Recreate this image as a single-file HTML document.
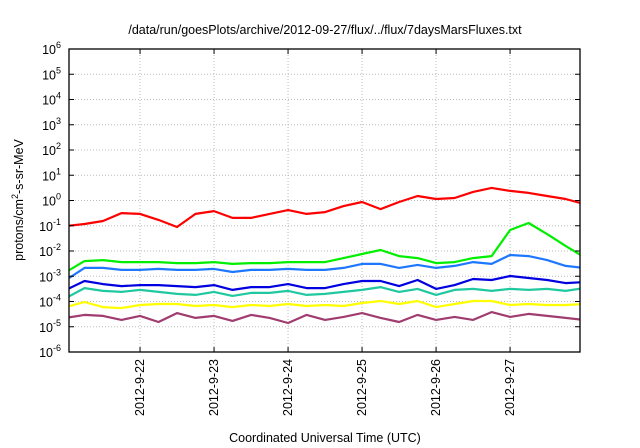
<!DOCTYPE html>
<html><head><meta charset="utf-8"><style>
body{margin:0;background:#fff;}
svg{display:block;font-family:"Liberation Sans",Arial,sans-serif;}
</style></head><body>
<svg id="chart" width="640" height="448">
<text x="325" y="34" text-anchor="middle" font-size="12.5">/data/run/goesPlots/archive/2012-09-27/flux/../flux/7daysMarsFluxes.txt</text>
<text x="325" y="442" text-anchor="middle" font-size="12.5">Coordinated Universal Time (UTC)</text>
<text transform="translate(23,200) rotate(-90)" text-anchor="middle" font-size="12.5">protons/cm<tspan dy="-5" font-size="9">2</tspan><tspan dy="5">-s-sr-MeV</tspan></text>
<g id="grid"></g><g id="series"></g><g id="axes"></g>
</svg>
<script>
const dayTicks=[22,23,24,25,26,27];
const dayLabels=["2012-9-22","2012-9-23","2012-9-24","2012-9-25","2012-9-26","2012-9-27"];
const decades=[-6,-5,-4,-3,-2,-1,0,1,2,3,4,5,6];
const times=[21,21.25,21.5,21.75,22,22.25,22.5,22.75,23,23.25,23.5,23.75,24,24.25,24.5,24.75,25,25.25,25.5,25.75,26,26.25,26.5,26.75,27,27.25,27.5,27.75,28];
const redLog=[-1.01,-0.93,-0.81,-0.50,-0.53,-0.77,-1.05,-0.53,-0.42,-0.69,-0.69,-0.53,-0.38,-0.53,-0.46,-0.22,-0.06,-0.34,-0.06,0.18,0.06,0.10,0.34,0.50,0.38,0.30,0.18,0.06,-0.14];
const greenLog=[-2.83,-2.40,-2.36,-2.44,-2.44,-2.44,-2.48,-2.48,-2.44,-2.51,-2.48,-2.48,-2.44,-2.44,-2.44,-2.28,-2.12,-1.96,-2.20,-2.28,-2.48,-2.44,-2.28,-2.20,-1.17,-0.89,-1.33,-1.80,-2.24];
const lightBlueLog=[-3.15,-2.67,-2.67,-2.75,-2.75,-2.71,-2.75,-2.75,-2.71,-2.83,-2.75,-2.75,-2.71,-2.75,-2.75,-2.67,-2.51,-2.51,-2.67,-2.55,-2.67,-2.59,-2.44,-2.51,-2.16,-2.20,-2.36,-2.59,-2.67];
const blueLog=[-3.54,-3.19,-3.31,-3.39,-3.35,-3.35,-3.39,-3.43,-3.35,-3.54,-3.43,-3.43,-3.31,-3.47,-3.47,-3.31,-3.19,-3.19,-3.39,-3.15,-3.50,-3.35,-3.11,-3.15,-2.99,-3.07,-3.15,-3.27,-3.23];
const tealLog=[-3.86,-3.47,-3.58,-3.62,-3.54,-3.62,-3.70,-3.74,-3.62,-3.78,-3.66,-3.66,-3.58,-3.74,-3.70,-3.62,-3.54,-3.43,-3.62,-3.50,-3.74,-3.54,-3.50,-3.58,-3.50,-3.54,-3.50,-3.58,-3.47];
const yellowLog=[-4.22,-4.02,-4.22,-4.26,-4.14,-4.10,-4.10,-4.18,-4.14,-4.22,-4.14,-4.18,-4.10,-4.18,-4.14,-4.18,-4.06,-3.98,-4.10,-3.98,-4.22,-4.10,-3.98,-3.98,-4.14,-4.10,-4.14,-4.14,-4.10];
const purpleLog=[-4.65,-4.53,-4.57,-4.73,-4.57,-4.81,-4.46,-4.65,-4.57,-4.77,-4.53,-4.65,-4.85,-4.53,-4.73,-4.61,-4.46,-4.65,-4.81,-4.53,-4.73,-4.61,-4.73,-4.42,-4.61,-4.49,-4.57,-4.65,-4.73];
const seriesColors=["#ff0000","#00ee00","#1e78ff","#0000e0","#20c8a0","#ffff00","#a03c70"];
const seriesNames=["series-red","series-green","series-light-blue","series-blue","series-teal","series-yellow","series-purple"];
const allSeries=[redLog,greenLog,lightBlueLog,blueLog,tealLog,yellowLog,purpleLog];

const L=69,R=580,T=49,B=352,t0=21.04,t1=27.945;
const xS=t=>L+(t-t0)/(t1-t0)*(R-L);
const yS=v=>B-(v+6)/12*(B-T);
const NS="http://www.w3.org/2000/svg";
function mk(tag,attrs,parent){const e=document.createElementNS(NS,tag);for(const k in attrs)e.setAttribute(k,attrs[k]);parent.appendChild(e);return e;}
const grid=document.getElementById('grid'),axes=document.getElementById('axes'),ser=document.getElementById('series');
const defs=mk('defs',{},document.getElementById('chart'));
const cp=mk('clipPath',{id:'clip'},defs);mk('rect',{x:L,y:T,width:R-L,height:B-T},cp);
decades.forEach(d=>{
 const y=yS(d);
 if(d>-6&&d<6){const g=mk('line',{x1:L,x2:R,y1:y,y2:y,stroke:'#bbb','stroke-dasharray':'1,2','stroke-width':1},grid);
 }
 mk('line',{x1:L,x2:L+5,y1:y,y2:y,stroke:'#000'},axes);mk('line',{x1:R,x2:R-5,y1:y,y2:y,stroke:'#000'},axes);
 const t=mk('text',{x:L-8,y:y+5,'text-anchor':'end','font-size':'12.5'},axes);
 
 
 t.textContent='10';const s=mk('tspan',{dy:-6,'font-size':'9'},t);s.textContent=String(d);
});
dayTicks.forEach((d,i)=>{
 const x=xS(d);
 const g=mk('line',{x1:x,x2:x,y1:T,y2:B,stroke:'#bbb','stroke-dasharray':'1,2'},grid);
 
 mk('line',{x1:x,x2:x,y1:B,y2:B-5,stroke:'#000'},axes);mk('line',{x1:x,x2:x,y1:T,y2:T+5,stroke:'#000'},axes);
 const t=mk('text',{transform:`translate(${x+4},359) rotate(-90)`,'text-anchor':'end','font-size':'12.5'},axes);
 
 
 t.textContent=dayLabels[i];
});
const fr=mk('rect',{x:L,y:T,width:R-L,height:B-T,fill:'none',stroke:'#000','stroke-width':1.3},axes);

allSeries.forEach((vals,k)=>{
 const pts=vals.map((v,i)=>xS(times[i]).toFixed(1)+','+yS(v).toFixed(1)).join(' ');
 const p=mk('polyline',{points:pts,fill:'none',stroke:seriesColors[k],'stroke-width':2.2,'stroke-linejoin':'round','clip-path':'url(#clip)'},ser);
 
 
});
</script>
</body></html>
